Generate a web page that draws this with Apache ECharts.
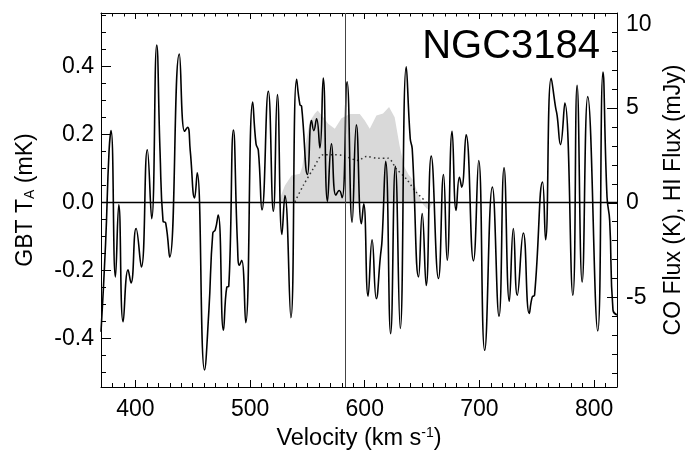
<!DOCTYPE html>
<html>
<head>
<meta charset="utf-8">
<script src="https://cdn.jsdelivr.net/npm/echarts@6/dist/echarts.min.js"></script>
<style>
html,body{margin:0;padding:0;background:#fff;}
#chart{width:692px;height:456px;}
</style>
</head>
<body>
<div id="chart"></div>
<script>
// GBT spectrum (velocity km/s, T_A mK)
const spectrumVelocity = [370,374,377,378.8,382.6,385.5,389.3,393.6,396.2,400.6,405.2,410.4,414.2,418.6,421.5,424.1,426.4,429.9,438.3,442.9,445.5,447.8,451.6,453.9,460.3,464.1,467.5,469.6,472.2,476.8,479.7,481.4,485.5,489.0,490.7,492.7,496.2,502.3,505.2,507.2,510.4,515.9,520.3,523.8,527.8,530.4,535.6,540.6,543.5,544.9,550.1,553.6,555.6,558.0,560.9,563.8,567.5,571.0,574.8,577.7,580.3,584.6,589.0,592.7,597.1,599.1,602.9,606.4,610.1,613.6,615.1,618.3,622.6,626.7,631.0,636.2,639.7,641.4,647.0,650.1,653.6,658.0,664.3,668.7,671.9,676.2,679.7,682.6,684.6,688.4,694.8,699.4,704.6,711.3,717.1,721.5,726.1,729.6,733.0,738.3,743.5,746.1,748.1,755.1,757.7,762.6,766.4,767.8,770.7,774.5,781.5,785.2,789.6,794.5,803.2,807.8,811.3,813.6,816.5,820];
const spectrumTa = [-0.38,-0.12,0.15,0.212,-0.218,-0.006,-0.35,-0.197,-0.236,-0.076,-0.189,0.156,-0.047,0.464,0.15,-0.054,-0.059,-0.16,0.437,0.21,0.222,0.154,0.014,0.088,-0.492,-0.316,-0.089,-0.08,-0.036,-0.375,-0.248,-0.246,0.214,-0.12,-0.184,-0.169,-0.353,0.296,0.173,0.154,-0.021,0.328,-0.025,0.318,-0.093,0.021,-0.338,0.363,0.288,0.284,0.083,0.242,0.212,0.247,0.161,0.367,0.004,0.173,0.022,0.036,0.015,0.356,-0.057,0.229,-0.062,-0.003,-0.275,-0.109,-0.282,-0.16,-0.11,0.122,-0.385,0.107,-0.37,0.4,0.188,0.159,-0.218,-0.032,-0.243,0.137,-0.223,0.083,-0.169,0.21,-0.023,0.075,0.046,0.2,-0.171,0.124,-0.434,0.046,-0.334,0.103,-0.29,-0.076,-0.272,-0.089,-0.326,-0.277,-0.272,0.061,-0.109,0.366,0.281,0.256,0.171,0.293,-0.272,0.345,-0.233,0.312,-0.377,0.384,0.017,-0.052,-0.316,-0.33];

// CO flux (grey filled)
const coVelocity = [524.6,530.4,536.2,543.5,545.5,548.7,552.2,556.5,559.0,563.8,568.1,573.9,579.7,587.0,595.7,600.0,604.4,610.2,616.0,621.2,626.1,630.4,634.5,638.0,642.0,647.0,651.0,654.0,656.5,659.0];
const coFlux = [0,0.91,1.44,1.53,1.9,3.2,4.3,4.7,4.86,4.5,4.16,3.9,4.45,4.68,4.68,4.33,3.9,4.6,4.7,5.05,4.5,3.0,1.9,1.5,1.2,0.4,-0.1,-0.3,-0.35,0];

// HI flux (dotted)
const hiVelocity = [539.1,546.4,555.1,563.8,572.5,581.2,594.2,601.5,611.6,620.3,627.5,636.2,644.9,653.6];
const hiFlux = [0.05,0.91,1.79,2.53,2.53,2.49,2.23,2.44,2.35,2.35,1.79,1.26,0.56,0.04];

const systemicVelocity = 583;
const galaxyName = 'NGC3184';

const FONT = "'Liberation Sans', Arial, Helvetica, sans-serif";
const zip = (a, b) => a.map((v, i) => [v, b[i]]);

const chart = echarts.init(document.getElementById('chart'), null, {renderer: 'canvas'});

const baseText = {color: '#000', fontFamily: FONT, fontSize: 23};

const option = {
  animation: false,
  backgroundColor: '#fff',
  title: {
    text: galaxyName,
    right: 92, top: 27, padding: 0,
    textStyle: {color: '#000', fontFamily: FONT, fontSize: 40, fontWeight: 'normal'}
  },
  grid: {left: 101, top: 13, width: 516, height: 374, containLabel: false, outerBoundsMode: 'none'},
  xAxis: [
    {
      type: 'value', position: 'bottom', min: 370, max: 820, splitNumber: 5,
      name: 'Velocity (km s{sup|-1})', nameLocation: 'middle', nameGap: 34,
      nameTextStyle: Object.assign({}, baseText, {fontSize: 23.5, rich: {sup: {fontSize: 14, fontFamily: FONT, color: '#000', verticalAlign: 'bottom', padding: [0, 0, 12, 0]}}}),
      axisLine: {show: true, onZero: false, lineStyle: {color: '#000', width: 1}},
      axisTick: {show: true, inside: true, length: 7, lineStyle: {color: '#000', width: 1}},
      minorTick: {show: true, splitNumber: 10, length: 4, lineStyle: {color: '#000', width: 1}},
      axisLabel: Object.assign({}, baseText, {margin: 11, showMinLabel: false, showMaxLabel: false}),
      splitLine: {show: false}, minorSplitLine: {show: false}
    },
    {
      type: 'value', position: 'top', min: 370, max: 820, splitNumber: 5,
      axisLine: {show: true, onZero: false, lineStyle: {color: '#000', width: 1}},
      axisTick: {show: true, inside: true, length: 6, lineStyle: {color: '#000', width: 1}},
      minorTick: {show: true, splitNumber: 10, length: 3.5, lineStyle: {color: '#000', width: 1}},
      axisLabel: {show: false},
      splitLine: {show: false}
    }
  ],
  yAxis: [
    {
      type: 'value', position: 'left', min: -0.542, max: 0.558, splitNumber: 5,
      name: 'GBT T{sub|A} (mK)', nameLocation: 'middle', nameRotate: 90, nameGap: 64,
      nameTextStyle: Object.assign({}, baseText, {rich: {sub: {fontSize: 14, fontFamily: FONT, color: '#000', verticalAlign: 'bottom'}}}),
      axisLine: {show: true, onZero: false, lineStyle: {color: '#000', width: 1}},
      axisTick: {show: true, inside: true, length: 10, lineStyle: {color: '#000', width: 1}},
      minorTick: {show: true, splitNumber: 4, length: 5, lineStyle: {color: '#000', width: 1}},
      axisLabel: Object.assign({}, baseText, {margin: 7, showMinLabel: false, showMaxLabel: false, formatter: v => v.toFixed(1)}),
      splitLine: {show: false}
    },
    {
      type: 'value', position: 'right', min: -9.71, max: 10, splitNumber: 4,
      name: 'CO Flux (K), HI Flux (mJy)', nameLocation: 'middle', nameRotate: 90, nameGap: 31,
      nameTextStyle: baseText,
      axisLine: {show: true, onZero: false, lineStyle: {color: '#000', width: 1}},
      axisTick: {show: true, inside: true, length: 10, lineStyle: {color: '#000', width: 1}},
      minorTick: {show: true, splitNumber: 5, length: 5, lineStyle: {color: '#000', width: 1}},
      axisLabel: Object.assign({}, baseText, {margin: 9, showMinLabel: false, showMaxLabel: true, verticalAlignMaxLabel: 'top'}),
      splitLine: {show: false}
    }
  ],
  series: [
    {
      name: 'CO', type: 'line', xAxisIndex: 0, yAxisIndex: 1, z: 1,
      data: zip(coVelocity, coFlux), showSymbol: false, silent: true,
      lineStyle: {width: 0, color: '#d9d9d9'},
      areaStyle: {color: '#d9d9d9', opacity: 1}
    },
    {
      name: 'HI', type: 'line', xAxisIndex: 0, yAxisIndex: 1, z: 2,
      data: zip(hiVelocity, hiFlux), showSymbol: false, silent: true, smooth: 0.3,
      lineStyle: {width: 1.5, color: '#333', type: [1.5, 3]}
    },
    {
      name: 'GBT', type: 'line', xAxisIndex: 0, yAxisIndex: 0, z: 3,
      data: zip(spectrumVelocity, spectrumTa), showSymbol: false, silent: true, smooth: 0.5,
      lineStyle: {width: 1.6, color: '#000'},
      markLine: {
        silent: true, symbol: 'none', animation: false,
        label: {show: false},
        data: [
          {yAxis: 0, lineStyle: {color: '#000', width: 1.3, type: 'solid'}},
          {xAxis: systemicVelocity, lineStyle: {color: '#444', width: 1, type: 'solid'}}
        ]
      }
    }
  ]
};
chart.setOption(option);
</script>
</body>
</html>
